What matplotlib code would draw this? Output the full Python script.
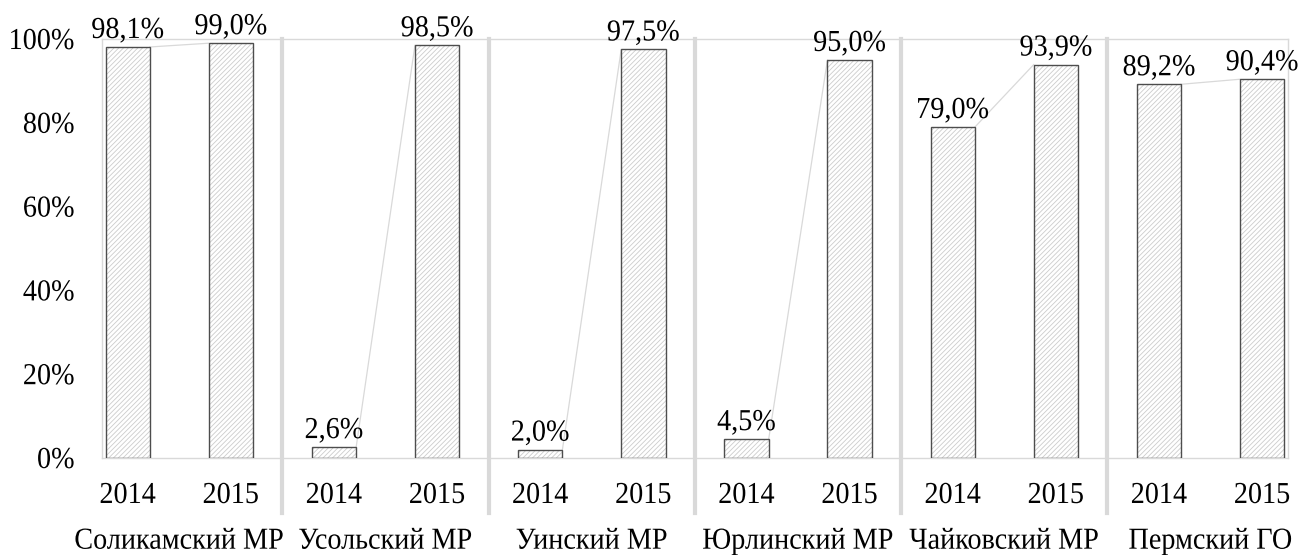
import numpy as np
import matplotlib
matplotlib.use('Agg')
import matplotlib.pyplot as plt
from matplotlib.lines import Line2D
from matplotlib.patheffects import AbstractPathEffect
from matplotlib.transforms import Affine2D

plt.rcParams['font.family'] = ['Liberation Serif', 'DejaVu Serif']
plt.rcParams['hatch.linewidth'] = 0.6

districts = ['Соликамский МР', 'Усольский МР', 'Уинский МР',
             'Юрлинский МР', 'Чайковский МР', 'Пермский ГО']
years = ['2014', '2015']
share_2014 = [98.1, 2.6, 2.0, 4.5, 79.0, 89.2]
share_2015 = [99.0, 98.5, 97.5, 95.0, 93.9, 90.4]
y_ticks = [0, 20, 40, 60, 80, 100]


class Tall(AbstractPathEffect):
    """Stretch glyphs vertically about the baseline."""
    def __init__(self, sy):
        super().__init__()
        self._sy = sy

    def draw_path(self, renderer, gc, tpath, affine, rgbFace=None):
        renderer.draw_path(gc, tpath, Affine2D().scale(1, self._sy) + affine, rgbFace)


values = []
for a, b in zip(share_2014, share_2015):
    values += [a, b]
values = np.array(values) / 100.0
x = np.arange(len(values))
bar_w = 0.43
light = '#d9d9d9'
txt = dict(fontsize=20.3, path_effects=[Tall(1.08)], va='baseline',
           textcoords='offset points')

fig = plt.figure(figsize=(13.02, 5.55), dpi=100)
ax = fig.add_axes([0.0783, 0.1748, 0.9109, 0.7549])

# hatched fill, then the outline on top
ax.bar(x, values, bar_w, color='white', edgecolor='#cccccc', hatch='///////', linewidth=0, zorder=2)
ax.bar(x, values, bar_w, fill=False, edgecolor='#4d4d4d', linewidth=1.0, zorder=3)

# series lines between the two years of each district
for g in range(len(districts)):
    i = 2 * g
    ax.plot([x[i] + bar_w / 2, x[i + 1] - bar_w / 2], [values[i], values[i + 1]],
            color=light, lw=0.9, zorder=1)

for xi, v in zip(x, values):
    ax.annotate(f'{v * 100:.1f}%'.replace('.', ','), (xi, v), xytext=(0, 6.5),
                ha='center', **txt)

ax.set_xlim(-0.25, len(values) - 0.75)
ax.set_ylim(0, 1)
ax.set_xticks([])
ax.set_yticks([])
for s in ax.spines.values():
    s.set_color(light)
    s.set_linewidth(1.0)

ytrans = ax.get_yaxis_transform()
for t in y_ticks:
    ax.annotate(f'{t}%', (0, t / 100), xycoords=ytrans, xytext=(-19.5, -7.2),
                ha='right', **txt)

# year labels, district separators and district names
trans = ax.get_xaxis_transform()
for xi, yr in zip(x, years * len(districts)):
    ax.annotate(yr, (xi, 0), xycoords=trans, xytext=(0, -32.4), ha='center', **txt)
for g in range(1, len(districts)):
    sep = 2 * g - 0.5
    ax.add_line(Line2D([sep, sep], [1.0, -0.131], transform=trans, color=light,
                       lw=3, clip_on=False, zorder=0))
for g, name in enumerate(districts):
    ax.annotate(name, (2 * g + 0.5, 0), xycoords=trans, xytext=(0, -65.3),
                ha='center', **txt)

fig.savefig('out.png', dpi=100)
